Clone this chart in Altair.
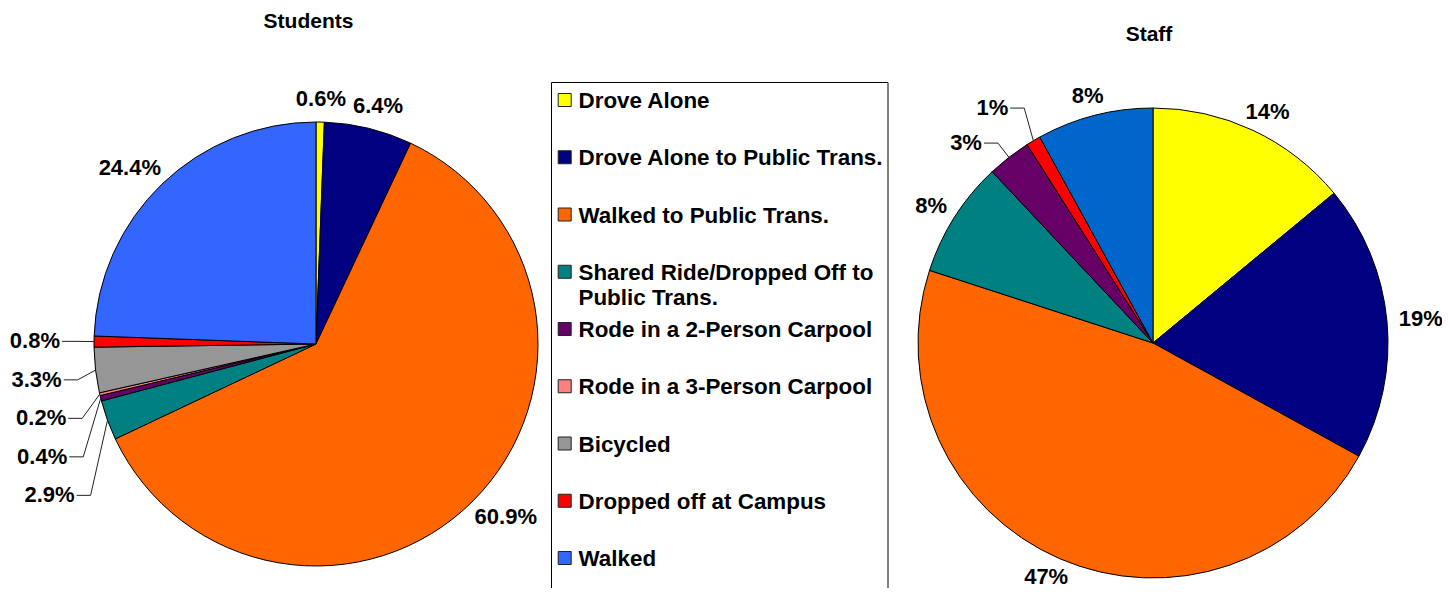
import math
import altair as alt
import pandas as pd

# ---------------- data ----------------
categories = [
    "Drove Alone",
    "Drove Alone to Public Trans.",
    "Walked to Public Trans.",
    "Shared Ride/Dropped Off to Public Trans.",
    "Rode in a 2-Person Carpool",
    "Rode in a 3-Person Carpool",
    "Bicycled",
    "Dropped off at Campus",
    "Walked",
]
legend_text = [
    "Drove Alone",
    "Drove Alone to Public Trans.",
    "Walked to Public Trans.",
    "Shared Ride/Dropped Off to\nPublic Trans.",
    "Rode in a 2-Person Carpool",
    "Rode in a 3-Person Carpool",
    "Bicycled",
    "Dropped off at Campus",
    "Walked",
]
category_colors = ["#FFFF00", "#000080", "#FF6600", "#008080", "#660066",
                   "#FF8080", "#969696", "#FF0000", "#3366FF"]
students_pct = [0.6, 6.4, 60.9, 2.9, 0.4, 0.2, 3.3, 0.8, 24.4]
staff_pct = [14, 19, 47, 8, 3, 0, 0, 1, 8]
staff_colors = category_colors[:-1] + ["#0066CC"]

# ---------------- layout ----------------
W, H = 1434, 580
FONT = "Liberation Sans"
FS = 22

STU = dict(cx=308, cy=336, r=222, decimals=1, gap=38.5, pad=15)
STA = dict(cx=1145, cy=335, r=235, decimals=0, gap=35, pad=12)


def text_width(s, fs=FS):
    w = {".": 0.278, "%": 0.889}
    return sum(w.get(ch, 0.556) for ch in s) * fs


def build(values, colors, cx, cy, r, decimals, gap, pad=15):
    total = float(sum(values))
    slices, labels_c, labels_r, rules, leaders = [], [], [], [], []
    cum = 0.0
    for i, (cat, v, col) in enumerate(zip(categories, values, colors)):
        if v <= 0:
            continue
        a = (cum + v / 2.0) / total * 2 * math.pi
        cum += v
        slices.append({"idx": i, "category": cat, "value": v, "color": col})
        txt = f"{v:.{decimals}f}%"
        ux, uy = math.sin(a), -math.cos(a)
        if v < 4 and ux < 0:
            ex, ey = cx + r * ux, cy + r * uy
            leaders.append(dict(txt=txt, a=math.degrees(a), ex=ex, ey=ey,
                                bx=ex + 18 * ux, by=ey + 18 * uy))
        else:
            w = text_width(txt)
            labels_c.append({"text": txt,
                             "px": cx + (r + pad) * ux + ux * w / 2,
                             "py": cy + (r + pad) * uy + uy * 8})
    if leaders:
        leaders.sort(key=lambda d: d["by"])
        mean_deg = sum(d["a"] for d in leaders) / len(leaders)
        if mean_deg < 270:
            for k in range(1, len(leaders)):
                leaders[k]["by"] = max(leaders[k]["by"], leaders[k - 1]["by"] + gap)
        else:
            for k in range(len(leaders) - 2, -1, -1):
                leaders[k]["by"] = min(leaders[k]["by"], leaders[k + 1]["by"] - gap)
        for d in leaders:
            labels_r.append({"text": d["txt"], "px": d["bx"] - 16, "py": d["by"]})
            rules.append({"x": d["ex"], "y": d["ey"], "x2": d["bx"], "y2": d["by"]})
            rules.append({"x": d["bx"], "y": d["by"], "x2": d["bx"] - 14, "y2": d["by"]})
    return (pd.DataFrame(slices), pd.DataFrame(labels_c),
            pd.DataFrame(labels_r), pd.DataFrame(rules))


def pie_layers(values, colors, cfg):
    sl, lc, lr, ru = build(values, colors, **cfg)
    layers = []
    layers.append(
        alt.Chart(sl).mark_arc(radius=cfg["r"], stroke="black", strokeWidth=1).encode(
            theta=alt.Theta("value:Q", stack=True),
            color=alt.Color("color:N", scale=None),
            order=alt.Order("idx:Q"),
            x=alt.value(cfg["cx"]),
            y=alt.value(cfg["cy"]),
        )
    )
    if len(ru):
        layers.append(
            alt.Chart(ru).mark_rule(color="#222222", strokeWidth=1).encode(
                x=alt.X("x:Q", scale=None, axis=None),
                y=alt.Y("y:Q", scale=None, axis=None),
                x2="x2:Q", y2="y2:Q",
            )
        )
    if len(lc):
        layers.append(
            alt.Chart(lc).mark_text(font=FONT, fontSize=FS, fontWeight="bold",
                                    align="center", baseline="middle", color="black").encode(
                x=alt.X("px:Q", scale=None, axis=None),
                y=alt.Y("py:Q", scale=None, axis=None),
                text="text:N",
            )
        )
    if len(lr):
        layers.append(
            alt.Chart(lr).mark_text(font=FONT, fontSize=FS, fontWeight="bold",
                                    align="right", baseline="middle", color="black").encode(
                x=alt.X("px:Q", scale=None, axis=None),
                y=alt.Y("py:Q", scale=None, axis=None),
                text="text:N",
            )
        )
    return layers


layers = []
layers += pie_layers(students_pct, category_colors, STU)
layers += pie_layers(staff_pct, staff_colors, STA)

# legend
leg = pd.DataFrame({"category": categories, "label": legend_text, "color": category_colors})
legend_box = alt.Chart(pd.DataFrame({"k": [0]})).mark_rect(
    fill=None, stroke="black", strokeWidth=1
).encode(x=alt.value(543.5), x2=alt.value(880), y=alt.value(74.5), y2=alt.value(600))
leg_y = alt.Y("category:N", axis=None,
              scale=alt.Scale(type="point", domain=categories, range=[92, 550], padding=0))
legend_sym = alt.Chart(leg).mark_square(size=169, filled=True, stroke="#222222",
                                        strokeWidth=1, opacity=1).encode(
    x=alt.value(556.7), y=leg_y, color=alt.Color("color:N", scale=None)
)
legend_lbl = alt.Chart(leg).mark_text(font=FONT, fontSize=22.4, fontWeight="bold", align="left",
                                      baseline="alphabetic", dy=8, lineBreak="\n",
                                      lineHeight=25, color="black").encode(
    x=alt.value(570.5), y=leg_y, text="label:N"
)
layers += [legend_box, legend_sym, legend_lbl]

# titles
tdf = pd.DataFrame({"k": [0]})
title_students = alt.Chart(tdf).mark_text(text="Students", font=FONT, fontSize=21,
                                          fontWeight="bold", align="center",
                                          baseline="middle").encode(
    x=alt.value(300.5), y=alt.value(14))
title_staff = alt.Chart(tdf).mark_text(text="Staff", font=FONT, fontSize=21,
                                       fontWeight="bold", align="center",
                                       baseline="middle").encode(
    x=alt.value(1141), y=alt.value(26.5))
layers += [title_students, title_staff]

chart = alt.layer(*layers).properties(
    width=W, height=H, padding=0, autosize=alt.AutoSizeParams(type="none")
).resolve_scale(
    theta="independent", x="independent", y="independent"
).configure_view(stroke=None)

chart.save("out.html", embed_options={"renderer": "svg", "actions": False})
